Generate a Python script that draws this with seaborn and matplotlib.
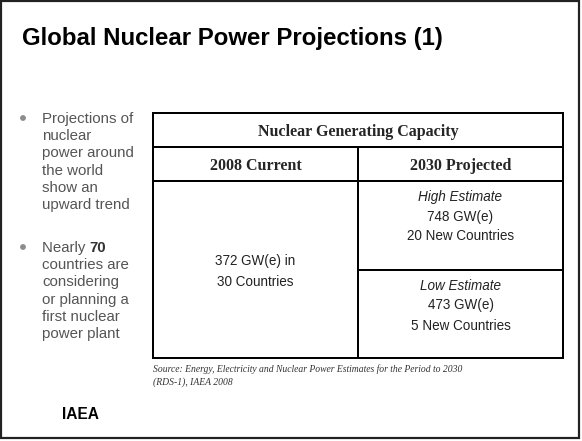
import matplotlib
matplotlib.use("Agg")
import matplotlib.pyplot as plt
import seaborn as sns
from matplotlib.patches import Rectangle, Circle

sns.set_theme(style="white")
plt.rcParams['font.family'] = ['Liberation Sans', 'DejaVu Sans']

# ---- content ----
title = "Global Nuclear Power Projections (1)"
bullet1_lines = ["Projections of", "nuclear", "power around", "the world", "show an", "upward trend"]
bullet2_first = ("Nearly ", "70")
bullet2_lines = ["countries are", "considering", "or planning a", "first nuclear", "power plant"]
table_title = "Nuclear Generating Capacity"
col_headers = ["2008 Current", "2030 Projected"]
current_lines = ["372 GW(e) in", "30 Countries"]
high_label = "High Estimate"
high_lines = ["748 GW(e)", "20 New Countries"]
low_label = "Low Estimate"
low_lines = ["473 GW(e)", "5 New Countries"]
source_lines = ["Source: Energy, Electricity and Nuclear Power Estimates for the Period to 2030",
                "(RDS-1), IAEA 2008"]
footer = "IAEA"

W, H = 582, 441
fig = plt.figure(figsize=(W / 100, H / 100), dpi=100)
ax = fig.add_axes([0, 0, 1, 1])
ax.set_xlim(0, W)
ax.set_ylim(H, 0)
ax.axis("off")
sns.despine(ax=ax, left=True, bottom=True)

PX = 0.72  # px -> pt
LW = 2 * PX

# slide frame
ax.add_patch(Rectangle((1, 1), 578, 437, fill=False, edgecolor="#222222", lw=2.2 * PX))

# title
ax.text(22, 45, title, fontsize=24 * PX, fontweight="bold", color="black",
        ha="left", va="baseline")

# bullets
txt_col = "#555555"
bfs = 15 * PX
step = 17.2
c1 = 118
for i, s in enumerate(bullet1_lines):
    ax.text(42, c1 + 5 + i * step, s, fontsize=bfs, color=txt_col, ha="left", va="baseline")
ax.add_patch(Circle((23, c1), 2.2, color="#8c8c8c"))

c2 = 247
ax.add_patch(Circle((23, c2), 2.2, color="#8c8c8c"))
t = ax.text(42, c2 + 5, bullet2_first[0], fontsize=bfs, color=txt_col, ha="left", va="baseline")
fig.canvas.draw()
bb = t.get_window_extent(renderer=fig.canvas.get_renderer())
x_after = ax.transData.inverted().transform((bb.x1, bb.y0))[0]
ax.text(x_after, c2 + 5, bullet2_first[1], fontsize=bfs, color="#333333", fontweight="bold",
        ha="left", va="baseline")
for i, s in enumerate(bullet2_lines):
    ax.text(42, c2 + 5 + (i + 1) * step, s, fontsize=bfs, color=txt_col, ha="left", va="baseline")

# table geometry
L, R, T, B = 153, 563, 113, 358
r1, r2 = 147, 181
cx = 358
mid = 270
ax.add_patch(Rectangle((L, T), R - L, B - T, fill=False, edgecolor="black", lw=LW))
ax.plot([L, R], [r1, r1], color="black", lw=LW)
ax.plot([L, R], [r2, r2], color="black", lw=LW)
ax.plot([cx, cx], [r1, B], color="black", lw=LW)
ax.plot([cx, R], [mid, mid], color="black", lw=LW)

serif = ['Liberation Serif', 'DejaVu Serif']
hfs = 16 * PX
ax.text((L + R) / 2, (T + r1) / 2, table_title, family=serif, fontweight="bold",
        fontsize=hfs, ha="center", va="center_baseline")
ax.text((L + cx) / 2, (r1 + r2) / 2, col_headers[0], family=serif, fontweight="bold",
        fontsize=hfs, ha="center", va="center_baseline")
ax.text((cx + R) / 2, (r1 + r2) / 2, col_headers[1], family=serif, fontweight="bold",
        fontsize=hfs, ha="center", va="center_baseline")

cfs = 13.5 * PX
ccol = "#222222"
lcx = (L + cx) / 2
rcx = (cx + R) / 2
for i, s in enumerate(current_lines):
    ax.text(lcx, 260 + i * 21, s, fontsize=cfs, color=ccol, ha="center", va="center_baseline")
ax.text(rcx, 196, high_label, fontsize=cfs, color=ccol, style="italic", ha="center", va="center_baseline")
for i, s in enumerate(high_lines):
    ax.text(rcx, 215 + i * 20, s, fontsize=cfs, color=ccol, ha="center", va="center_baseline")
ax.text(rcx, 284, low_label, fontsize=cfs, color=ccol, style="italic", ha="center", va="center_baseline")
for i, s in enumerate(low_lines):
    ax.text(rcx, 304 + i * 20, s, fontsize=cfs, color=ccol, ha="center", va="center_baseline")

# source
for i, s in enumerate(source_lines):
    ax.text(L, 368 + i * 13, s, family=serif, style="italic", fontsize=9.6 * PX,
            color="#333333", ha="left", va="center_baseline")

# footer
ax.text(62, 413, footer, fontsize=15.5 * PX, fontweight="bold", color="black",
        ha="left", va="center_baseline")

fig.savefig("out.png", dpi=100, facecolor="white")
